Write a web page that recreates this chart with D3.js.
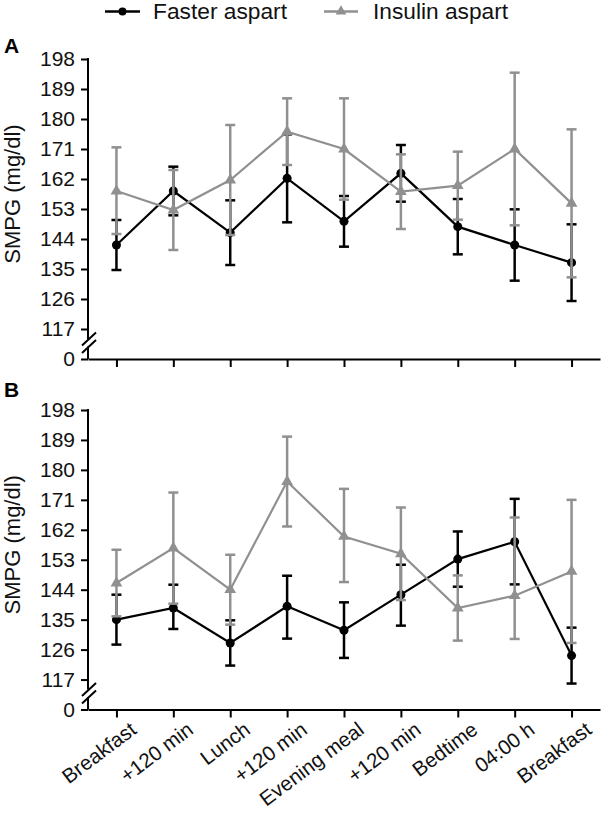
<!DOCTYPE html>
<html>
<head>
<meta charset="utf-8">
<script src="https://cdn.jsdelivr.net/npm/d3@7"></script>
<style>
  body { margin: 0; background: #fff; }
  svg { display: block; font-family: "Liberation Sans", Arial, sans-serif; }
</style>
</head>
<body>
<div id="chart"></div>
<script>
const categories = ['Breakfast', '+120 min', 'Lunch', '+120 min', 'Evening meal', '+120 min', 'Bedtime', '04:00 h', 'Breakfast'];
const yTicks = [117, 126, 135, 144, 153, 162, 171, 180, 189, 198];
const breakValue = 108; // shown as "0" below the axis break

// Panel A
const fasterA = [142.2, 158.4, 145.9, 162.2, 149.3, 163.7, 147.7, 142.2, 136.9];
const fasterALow = [134.7, 151.1, 136.2, 149.0, 141.7, 155.2, 139.4, 131.5, 125.4];
const fasterAHigh = [149.7, 165.7, 155.6, 175.4, 156.9, 172.2, 156.0, 152.9, 148.4];
const insulinA = [158.4, 152.7, 161.7, 176.2, 171.0, 158.2, 160.0, 171.0, 154.7];
const insulinALow = [145.5, 140.7, 145.2, 166.2, 155.8, 147.0, 149.8, 148.1, 132.5];
const insulinAHigh = [171.5, 164.7, 178.2, 186.2, 186.2, 169.4, 170.2, 193.9, 176.9];

// Panel B
const fasterB = [135.0, 138.5, 128.0, 139.0, 131.8, 142.5, 153.2, 158.4, 124.2];
const fasterBLow = [127.5, 132.2, 121.2, 129.3, 123.5, 133.2, 144.9, 145.6, 115.8];
const fasterBHigh = [142.5, 145.5, 134.8, 148.2, 140.2, 151.5, 161.5, 171.3, 132.6];
const insulinB = [146.0, 156.5, 144.0, 176.5, 160.0, 154.8, 138.5, 142.2, 149.5];
const insulinBLow = [136.0, 139.8, 133.5, 163.0, 146.3, 140.9, 128.7, 129.2, 128.0];
const insulinBHigh = [156.0, 173.2, 154.5, 190.0, 174.3, 168.7, 148.3, 165.7, 171.0];

const seriesNames = ['Faster aspart', 'Insulin aspart'];
const black = '#000';
const gray = '#909090';
const font = '"Liberation Sans", Arial, sans-serif';

const svg = d3.select('#chart').append('svg')
  .attr('width', 601)
  .attr('height', 816);

const axisX = 88;
const x = d3.scalePoint()
  .domain(d3.range(categories.length))
  .range([axisX, 600])
  .padding(0.5);

const panels = [
  { label: 'A', labelY: 53, top: 59, bottom: 359, showLabels: false,
    faster: [fasterA, fasterALow, fasterAHigh], insulin: [insulinA, insulinALow, insulinAHigh] },
  { label: 'B', labelY: 397, top: 410, bottom: 709.5, showLabels: true,
    faster: [fasterB, fasterBLow, fasterBHigh], insulin: [insulinB, insulinBLow, insulinBHigh] }
];

panels.forEach(drawPanel);
drawLegend();

function drawPanel(p) {
  const y = d3.scaleLinear()
    .domain([breakValue, 198])
    .range([p.bottom, p.top]);

  const g = svg.append('g');

  // y axis with break
  const yAxis = d3.axisLeft(y)
    .tickValues([breakValue].concat(yTicks))
    .tickFormat(d => d === breakValue ? '0' : d)
    .tickSize(7)
    .tickPadding(6);

  const ya = g.append('g')
    .attr('transform', `translate(${axisX},0)`)
    .call(yAxis);
  ya.select('.domain').remove();
  ya.selectAll('line').attr('stroke', black).attr('stroke-width', 2);
  ya.selectAll('text')
    .attr('font-size', 21)
    .attr('font-family', font)
    .attr('fill', '#111');

  g.append('line')
    .attr('x1', axisX).attr('x2', axisX)
    .attr('y1', y(198) - 1).attr('y2', p.bottom - 20)
    .attr('stroke', black).attr('stroke-width', 2);
  g.append('line')
    .attr('x1', axisX).attr('x2', axisX)
    .attr('y1', p.bottom - 12.5).attr('y2', p.bottom)
    .attr('stroke', black).attr('stroke-width', 2);
  [p.bottom - 20, p.bottom - 12.5].forEach(cy => {
    g.append('line')
      .attr('x1', axisX - 6).attr('y1', cy + 6.5)
      .attr('x2', axisX + 8).attr('y2', cy - 6.5)
      .attr('stroke', black).attr('stroke-width', 2);
  });

  // x axis
  const xAxis = d3.axisBottom(x)
    .tickSize(8)
    .tickSizeOuter(0)
    .tickFormat(i => p.showLabels ? categories[i] : '');

  const xa = g.append('g')
    .attr('transform', `translate(0,${p.bottom})`)
    .call(xAxis);
  xa.select('.domain').attr('stroke', black).attr('stroke-width', 2);
  xa.selectAll('line').attr('stroke', black).attr('stroke-width', 2);
  xa.selectAll('text')
    .attr('font-size', 20.5)
    .attr('font-family', font)
    .attr('fill', '#111')
    .attr('text-anchor', 'end')
    .attr('x', 0)
    .attr('y', 0)
    .attr('dy', '0.72em')
    .attr('transform', 'translate(12,11) rotate(-37)');

  // panel letter
  svg.append('text')
    .attr('x', 4)
    .attr('y', p.labelY)
    .attr('font-size', 21)
    .attr('font-weight', 'bold')
    .attr('font-family', font)
    .text(p.label);

  // y title
  svg.append('text')
    .attr('transform', `translate(20,${(p.top + p.bottom) / 2 - 15}) rotate(-90)`)
    .attr('text-anchor', 'middle')
    .attr('font-size', 22)
    .attr('font-family', font)
    .attr('fill', '#111')
    .text('SMPG (mg/dl)');

  drawSeries(g, y, p.faster, black, 'circle');
  drawSeries(g, y, p.insulin, gray, 'triangle');
}

function drawSeries(g, y, series, color, shape) {
  const [mean, low, high] = series;
  const idx = d3.range(mean.length);

  const err = g.append('g');
  err.selectAll('.bar')
    .data(idx)
    .enter()
    .append('line')
    .attr('x1', i => x(i)).attr('x2', i => x(i))
    .attr('y1', i => y(high[i])).attr('y2', i => y(low[i]))
    .attr('stroke', color).attr('stroke-width', 2.5);
  ['high', 'low'].forEach(k => {
    const arr = k === 'high' ? high : low;
    err.selectAll('.cap-' + k)
      .data(idx)
      .enter()
      .append('line')
      .attr('x1', i => x(i) - 5).attr('x2', i => x(i) + 5)
      .attr('y1', i => y(arr[i])).attr('y2', i => y(arr[i]))
      .attr('stroke', color).attr('stroke-width', 2.5);
  });

  const line = d3.line()
    .x(i => x(i))
    .y(i => y(mean[i]));

  g.append('path')
    .datum(idx)
    .attr('d', line)
    .attr('fill', 'none')
    .attr('stroke', color)
    .attr('stroke-width', 2.2);

  const sym = d3.symbol()
    .type(shape === 'circle' ? d3.symbolCircle : d3.symbolTriangle)
    .size(shape === 'circle' ? 64 : 60);

  g.selectAll('.mk')
    .data(idx)
    .enter()
    .append('path')
    .attr('d', sym)
    .attr('transform', i => `translate(${x(i)},${y(mean[i])})`)
    .attr('fill', color);
}

function drawLegend() {
  const items = [
    { name: seriesNames[0], color: black, shape: d3.symbolCircle, size: 50, x0: 105, x1: 140, tx: 153 },
    { name: seriesNames[1], color: gray, shape: d3.symbolTriangle, size: 50, x0: 324, x1: 358, tx: 373 }
  ];
  const lg = svg.append('g');
  items.forEach(d => {
    lg.append('line')
      .attr('x1', d.x0).attr('x2', d.x1)
      .attr('y1', 11.5).attr('y2', 11.5)
      .attr('stroke', d.color).attr('stroke-width', 2.5);
    lg.append('path')
      .attr('d', d3.symbol().type(d.shape).size(d.size))
      .attr('transform', `translate(${(d.x0 + d.x1) / 2},11.5)`)
      .attr('fill', d.color);
    lg.append('text')
      .attr('x', d.tx)
      .attr('y', 19)
      .attr('font-size', 22.5)
      .attr('font-family', font)
      .attr('fill', '#111')
      .attr('textLength', d.name === seriesNames[0] ? 134 : 135)
      .attr('lengthAdjust', 'spacingAndGlyphs')
      .text(d.name);
  });
}
</script>
</body>
</html>
